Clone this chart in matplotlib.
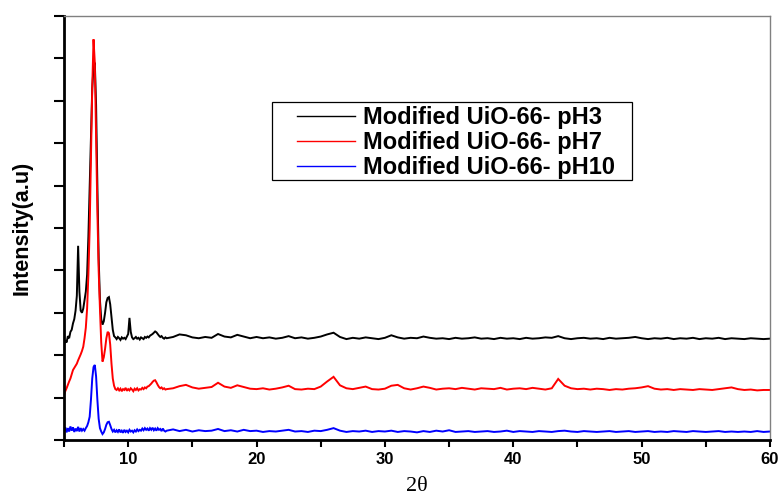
import numpy as np
import matplotlib
matplotlib.use("Agg")
import matplotlib.pyplot as plt
from matplotlib.patches import Rectangle
from matplotlib.lines import Line2D

# ---------------- data (arbitrary intensity units) -------------
two_theta_fine = np.round(np.arange(5.0, 12.95, 0.1), 1)      # 5.0 ... 12.9
two_theta_coarse = np.round(np.arange(13.0, 60.01, 0.5), 1)   # 13.0 ... 60.0

ph3_fine = [
    2.25, 2.35, 2.30, 2.45, 2.40, 2.55, 2.60, 2.75, 2.85, 3.05,
    3.40, 4.58, 3.50, 3.05, 3.00, 3.10, 3.30, 3.50, 3.90, 4.80,
    6.00, 7.30, 8.30, 8.80, 8.90, 7.90, 6.00, 4.30, 3.30, 2.85,
    2.72, 2.80, 3.00, 3.25, 3.35, 3.37, 3.20, 2.90, 2.60, 2.45,
    2.42, 2.38, 2.43, 2.40, 2.36, 2.42, 2.39, 2.41, 2.38, 2.44,
    2.50, 2.88, 2.55, 2.42, 2.38, 2.40, 2.43, 2.39, 2.41, 2.37,
    2.42, 2.40, 2.38, 2.43, 2.41, 2.44, 2.42, 2.46, 2.48, 2.50,
    2.53, 2.56, 2.54, 2.50, 2.46, 2.43, 2.45, 2.41, 2.39, 2.42,
]
ph3_coarse = [
    2.40, 2.43, 2.49, 2.47, 2.42, 2.40, 2.43, 2.41, 2.50, 2.44,
    2.42, 2.48, 2.44, 2.40, 2.43, 2.40, 2.42, 2.39, 2.41, 2.45,
    2.40, 2.42, 2.39, 2.41, 2.44, 2.49, 2.53, 2.43, 2.38, 2.41,
    2.39, 2.42, 2.40, 2.38, 2.41, 2.47, 2.42, 2.39, 2.41, 2.40,
    2.44, 2.41, 2.39, 2.40, 2.38, 2.41, 2.39, 2.40, 2.42, 2.39,
    2.40, 2.38, 2.41, 2.39, 2.40, 2.38, 2.41, 2.39, 2.40, 2.42,
    2.41, 2.45, 2.40, 2.38, 2.40, 2.41, 2.39, 2.40, 2.38, 2.41,
    2.39, 2.40, 2.41, 2.43, 2.40, 2.38, 2.40, 2.39, 2.41, 2.38,
    2.40, 2.39, 2.41, 2.38, 2.40, 2.39, 2.41, 2.38, 2.40, 2.39,
    2.38, 2.40, 2.39, 2.38, 2.39,
]

ph7_fine = [
    1.06, 1.15, 1.22, 1.30, 1.38, 1.45, 1.55, 1.65, 1.70, 1.75,
    1.80, 1.88, 1.95, 2.02, 2.10, 2.20, 2.40, 2.65, 3.10, 3.90,
    5.00, 6.60, 8.30, 9.45, 8.90, 7.10, 5.40, 4.00, 3.10, 2.30,
    1.85, 1.95, 2.15, 2.40, 2.55, 2.52, 2.25, 1.80, 1.45, 1.28,
    1.20, 1.18, 1.22, 1.17, 1.21, 1.15, 1.20, 1.18, 1.23, 1.16,
    1.20, 1.17, 1.22, 1.19, 1.15, 1.21, 1.18, 1.22, 1.17, 1.20,
    1.19, 1.23, 1.20, 1.24, 1.22, 1.26, 1.27, 1.30, 1.33, 1.37,
    1.40, 1.41, 1.36, 1.30, 1.25, 1.22, 1.24, 1.20, 1.22, 1.19,
]
ph7_coarse = [
    1.20, 1.22, 1.27, 1.30, 1.24, 1.21, 1.23, 1.25, 1.35, 1.26,
    1.23, 1.29, 1.25, 1.21, 1.20, 1.22, 1.19, 1.21, 1.24, 1.28,
    1.20, 1.19, 1.21, 1.20, 1.26, 1.38, 1.49, 1.29, 1.22, 1.20,
    1.23, 1.26, 1.20, 1.19, 1.21, 1.28, 1.30, 1.22, 1.19, 1.22,
    1.26, 1.23, 1.19, 1.21, 1.22, 1.20, 1.23, 1.21, 1.19, 1.22,
    1.21, 1.20, 1.23, 1.19, 1.21, 1.22, 1.20, 1.23, 1.21, 1.19,
    1.22, 1.44, 1.28, 1.22, 1.20, 1.21, 1.19, 1.21, 1.20, 1.18,
    1.20, 1.19, 1.21, 1.22, 1.24, 1.27, 1.21, 1.19, 1.20, 1.18,
    1.20, 1.19, 1.18, 1.20, 1.19, 1.18, 1.20, 1.22, 1.24, 1.20,
    1.18, 1.19, 1.17, 1.18, 1.18,
]

ph10_fine = [
    0.22, 0.30, 0.18, 0.28, 0.20, 0.32, 0.22, 0.30, 0.19, 0.27,
    0.21, 0.31, 0.20, 0.28, 0.22, 0.26, 0.22, 0.28, 0.33, 0.42,
    0.55, 0.95, 1.45, 1.72, 1.77, 1.50, 0.95, 0.50, 0.28, 0.20,
    0.14, 0.18, 0.26, 0.36, 0.42, 0.43, 0.35, 0.26, 0.20, 0.24,
    0.18, 0.23, 0.19, 0.25, 0.18, 0.22, 0.17, 0.24, 0.19, 0.22,
    0.18, 0.24, 0.20, 0.22, 0.18, 0.23, 0.20, 0.25, 0.21, 0.24,
    0.22, 0.27, 0.23, 0.28, 0.24, 0.27, 0.22, 0.28, 0.24, 0.29,
    0.23, 0.27, 0.22, 0.28, 0.24, 0.26, 0.21, 0.27, 0.22, 0.20,
]
ph10_coarse = [
    0.22, 0.25, 0.21, 0.24, 0.20, 0.23, 0.21, 0.22, 0.26, 0.21,
    0.23, 0.20, 0.24, 0.21, 0.22, 0.19, 0.21, 0.20, 0.22, 0.24,
    0.20, 0.21, 0.19, 0.22, 0.21, 0.24, 0.28, 0.22, 0.19, 0.21,
    0.20, 0.22, 0.19, 0.21, 0.20, 0.22, 0.19, 0.21, 0.20, 0.18,
    0.21, 0.19, 0.22, 0.20, 0.23, 0.19, 0.20, 0.21, 0.19, 0.20,
    0.21, 0.19, 0.20, 0.22, 0.19, 0.21, 0.20, 0.19, 0.21, 0.20,
    0.19, 0.21, 0.22, 0.20, 0.19, 0.21, 0.20, 0.19, 0.20, 0.21,
    0.19, 0.20, 0.21, 0.19, 0.20, 0.21, 0.19, 0.20, 0.19, 0.21,
    0.20, 0.19, 0.21, 0.20, 0.19, 0.20, 0.21, 0.19, 0.20, 0.19,
    0.20, 0.19, 0.21, 0.19, 0.20,
]

series_labels = ["Modified UiO-66- pH3", "Modified UiO-66- pH7", "Modified UiO-66- pH10"]
series_colors = ["#000000", "#ff0000", "#0000ff"]
x_ticks = [5, 10, 15, 20, 25, 30, 35, 40, 45, 50, 55, 60]
x_tick_labels = ["", "10", "", "20", "", "30", "", "40", "", "50", "", "60"]

# ---------------- figure ----------------
W, H = 782, 501
fig = plt.figure(figsize=(W / 100, H / 100), dpi=100)
ax = fig.add_axes([64 / W, 61 / H, 706 / W, 424 / H])

x_all = np.concatenate([two_theta_fine, two_theta_coarse])
series = [
    np.concatenate([ph3_fine, ph3_coarse]),
    np.concatenate([ph7_fine, ph7_coarse]),
    np.concatenate([ph10_fine, ph10_coarse]),
]
for y, c in zip(series, series_colors):
    ax.plot(x_all, y, color=c, lw=1.4, solid_joinstyle="miter")

ax.set_xlim(5, 60)
ax.set_ylim(0, 10)

sans = ["Liberation Sans", "DejaVu Sans"]
ax.set_xticks(x_ticks)
ax.set_xticklabels(x_tick_labels, fontfamily=sans, fontweight="bold", fontsize=12)
ax.set_yticks(range(0, 11))
ax.set_yticklabels([])
ax.tick_params(axis="x", direction="out", length=5, width=1.5, pad=4)
ax.tick_params(axis="y", direction="out", length=7.5, width=1.5)

for s in ["left", "bottom"]:
    ax.spines[s].set_linewidth(2)
    ax.spines[s].set_color("black")
for s in ["top", "right"]:
    ax.spines[s].set_linewidth(1)
    ax.spines[s].set_color("#808080")

ax.set_ylabel("Intensity(a.u)", fontfamily=sans, fontweight="bold", fontsize=15.5)
ax.yaxis.set_label_coords(-0.044, 0.5)
ax.set_xlabel("2θ", fontfamily=["Liberation Serif", "DejaVu Serif"], fontsize=16)
ax.xaxis.set_label_coords(0.5, -0.088)

handles = [Line2D([0], [0], color=c, lw=1.0) for c in series_colors]
leg = fig.legend(handles, series_labels, loc="upper left",
                 bbox_to_anchor=(297 / W, 1 - 106 / H), bbox_transform=fig.transFigure,
                 frameon=False, borderpad=0, borderaxespad=0,
                 handlelength=2.45, handletextpad=0.35, labelspacing=0.08,
                 prop={"family": sans, "weight": "bold", "size": 17})
fig.add_artist(Rectangle((272 / W, 1 - 180 / H), 360 / W, 78 / H,
                         transform=fig.transFigure, fill=False,
                         edgecolor="black", linewidth=0.9))

fig.savefig("out.png", dpi=100)
